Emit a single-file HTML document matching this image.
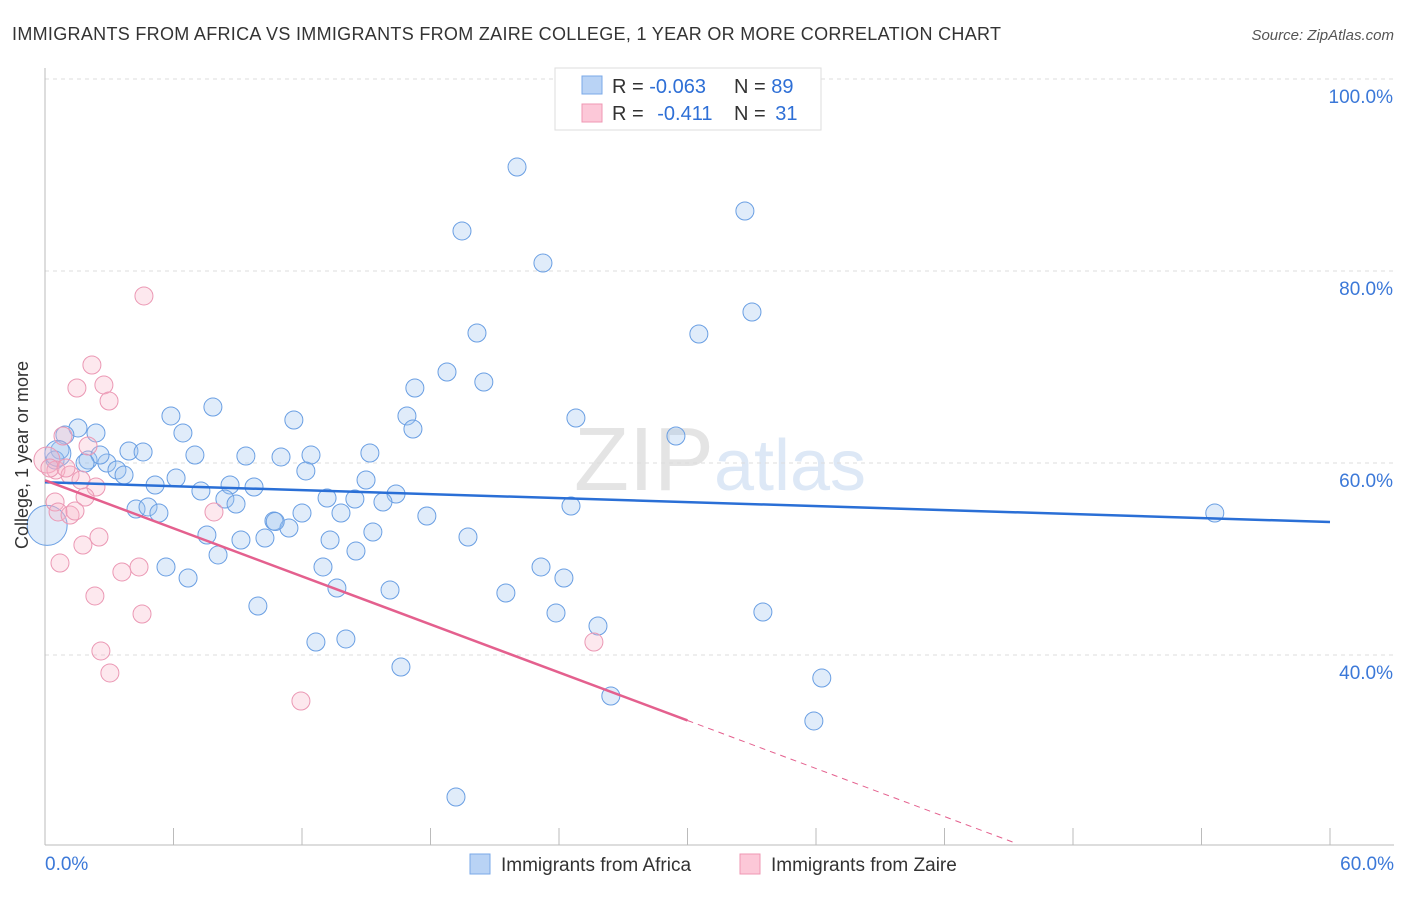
<!DOCTYPE html>
<html><head><meta charset="utf-8"><style>
body{margin:0;background:#fff;font-family:"Liberation Sans",sans-serif}
svg text{font-family:"Liberation Sans",sans-serif}
</style></head><body>
<svg id="c" width="1406" height="892">
<text x="12" y="40" font-size="18" fill="#333" textLength="989">IMMIGRANTS FROM AFRICA VS IMMIGRANTS FROM ZAIRE COLLEGE, 1 YEAR OR MORE CORRELATION CHART</text>
<text x="1394" y="40" font-size="15" fill="#555" font-style="italic" text-anchor="end">Source: ZipAtlas.com</text>
<text x="720" y="490" font-size="90" fill="#e6e6e6" text-anchor="middle" font-family="Liberation Serif"><tspan fill="#e4e4e4">ZIP</tspan><tspan fill="#dde8f6" font-family="Liberation Sans" font-size="72">atlas</tspan></text>
<g id="grid"></g><g id="pts"></g><g id="lines"></g>
<text x="28" y="455" font-size="18" fill="#333" text-anchor="middle" transform="rotate(-90 28 455)">College, 1 year or more</text>
<g>
<rect x="555" y="68" width="266" height="62" fill="#fff" stroke="#ddd"/>
<rect x="582" y="76" width="20" height="18" fill="#b9d3f5" stroke="#7aa8e8"/>
<rect x="582" y="104" width="20" height="18" fill="#fcc8d8" stroke="#ef97b3"/>
<text x="612" y="93" font-size="20" fill="#333">R = <tspan fill="#2e6fd6">-0.063</tspan></text>
<text x="734" y="93" font-size="20" fill="#333">N = <tspan fill="#2e6fd6">89</tspan></text>
<text x="612" y="120" font-size="20" fill="#333">R =  <tspan fill="#2e6fd6" dx="8">-0.411</tspan></text>
<text x="734" y="120" font-size="20" fill="#333">N =  <tspan fill="#2e6fd6" dx="4">31</tspan></text>
</g>
<g>
<rect x="470" y="854" width="20" height="20" fill="#b9d3f5" stroke="#7aa8e8"/>
<text x="501" y="871" font-size="19" fill="#333">Immigrants from Africa</text>
<rect x="740" y="854" width="20" height="20" fill="#fcc8d8" stroke="#ef97b3"/>
<text x="771" y="871" font-size="19" fill="#333">Immigrants from Zaire</text>
</g>
</svg>
<script>
const yTicks=[40,60,80,100];
const xTickLabels=["0.0%","60.0%"];
const africaX=[22.04,32.68,19.47,23.25,33.01,20.17,30.53,18.77,20.49,17.27,7.84,16.90,5.88,24.79,11.62,17.18,6.44,2.38,1.54,0.93,29.46,3.92,4.58,7.00,9.38,11.02,12.42,15.17,0.70,2.01,2.89,3.36,3.69,6.12,12.18,14.99,5.14,8.64,9.76,7.28,14.47,16.39,8.40,8.92,13.17,15.78,24.56,4.25,4.81,5.32,12.00,10.69,13.82,17.83,11.39,15.31,7.56,9.15,10.27,13.31,19.75,14.52,8.08,5.65,12.98,23.16,6.68,24.23,13.63,16.11,21.52,9.94,23.86,33.52,25.82,12.65,14.05,16.62,36.27,26.42,35.90,19.19,54.62,0.47,2.57,1.87,10.75,0.1,0.6];
const africaY=[90.83,86.25,84.17,80.83,75.73,73.54,73.44,69.48,68.44,67.81,65.83,64.90,64.90,64.69,64.48,63.54,63.13,63.13,63.65,62.92,62.81,61.25,61.15,60.83,60.73,60.63,60.83,61.04,61.35,60.31,60.00,59.27,58.75,58.44,59.17,58.23,57.71,57.71,57.50,57.08,56.25,56.77,56.25,55.73,56.35,55.94,55.52,55.21,55.42,54.79,54.79,53.96,54.79,54.48,53.23,52.81,52.50,51.98,52.19,51.98,52.29,50.83,50.42,49.17,49.17,49.17,48.02,48.02,46.98,46.77,46.46,45.10,44.38,44.48,43.02,41.35,41.67,38.75,37.60,35.73,33.13,25.21,54.79,60.31,60.83,60.00,53.9,53.5,61.0];
const africaR=[9,9,9,9,9,9,9,9,9,9,9,9,9,9,9,9,9,9,9,9,9,9,9,9,9,9,9,9,9,9,9,9,9,9,9,9,9,9,9,9,9,9,9,9,9,9,9,9,9,9,9,9,9,9,9,9,9,9,9,9,9,9,9,9,9,9,9,9,9,9,9,9,9,9,9,9,9,9,9,9,9,9,9,9,9,9,9,20,13];
const zaireX=[4.62,2.19,1.49,2.75,2.99,0.84,2.01,0.09,0.51,1.17,1.68,2.38,0.47,1.87,7.89,0.61,1.17,1.40,2.52,1.77,0.70,4.39,3.59,2.33,4.53,2.61,3.03,11.95,25.63,0.23,0.98];
const zaireY=[77.40,70.21,67.81,68.13,66.46,62.81,61.77,60.31,59.27,58.75,58.23,57.50,55.94,56.46,54.90,54.90,54.58,55.00,52.29,51.46,49.58,49.17,48.65,46.15,44.27,40.42,38.13,35.21,41.35,59.48,59.48];
const africaTrend=[58.0,53.85];
const zaireTrend=[58.2,-0.834];
const NS="http://www.w3.org/2000/svg";
const X=v=>45+v*(1285/60), Y=v=>79+(100-v)*9.6;
function mk(t,a,p){const e=document.createElementNS(NS,t);for(const k in a)e.setAttribute(k,a[k]);p.appendChild(e);return e;}
const g=document.getElementById('grid');
yTicks.forEach(t=>{const l=mk('line',{x1:45,x2:1394,y1:Y(t),y2:Y(t),stroke:'#ddd','stroke-dasharray':'4,4'},g);


const tx=mk('text',{x:1393,y:Y(t)+24,'font-size':19,fill:'#3b78d8','text-anchor':'end'},g);tx.textContent=t.toFixed(1)+'%';

});
const ax=mk('line',{x1:45,x2:45,y1:68,y2:845,stroke:'#bbb'},g);


const bx=mk('line',{x1:45,x2:1394,y1:845,y2:845,stroke:'#bbb'},g);


for(let i=0;i<=10;i++){const t=mk('line',{x1:X(i*6),x2:X(i*6),y1:828,y2:845,stroke:'#bbb'},g);

}
xTickLabels.forEach((s,i)=>{const t=mk('text',{x:i?1394:45,y:870,'font-size':19,fill:'#3b78d8','text-anchor':i?'end':'start'},g);t.textContent=s;

});
const p=document.getElementById('pts');
africaX.forEach((x,i)=>{const c=mk('circle',{cx:X(x),cy:Y(africaY[i]),r:africaR[i],fill:'rgba(160,196,240,0.32)',stroke:'#6a9fe3','stroke-width':1},p);

});
zaireX.forEach((x,i)=>{const c=mk('circle',{cx:X(x),cy:Y(zaireY[i]),r:(i==7?13:9),fill:'rgba(248,180,200,0.3)',stroke:'#eb98b4','stroke-width':1},p);

});
const L=document.getElementById('lines');
const b=mk('line',{x1:X(0),y1:Y(africaTrend[0]),x2:X(60),y2:Y(africaTrend[1]),stroke:'#2a6fd6','stroke-width':2.5},L);


const zy=x=>zaireTrend[0]+zaireTrend[1]*x;
const z1=mk('line',{x1:X(0),y1:Y(zy(0)),x2:X(30),y2:Y(zy(30)),stroke:'#e4608e','stroke-width':2.5},L);


const z2=mk('line',{x1:X(30),y1:Y(zy(30)),x2:X(45.3),y2:Y(zy(45.3)),stroke:'#e4608e','stroke-width':1,'stroke-dasharray':'6,5'},L);


</script>
</body></html>
